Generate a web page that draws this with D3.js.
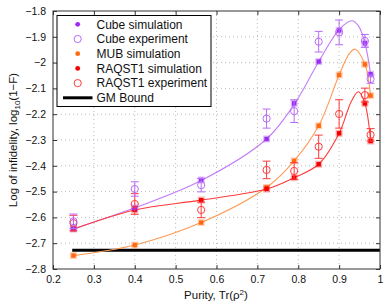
<!DOCTYPE html>
<html><head><meta charset="utf-8">
<script src="https://cdn.jsdelivr.net/npm/d3@7"></script>
<style>body{margin:0;background:#fff}svg{display:block;font-family:"Liberation Sans",Arial,sans-serif}</style>
</head><body><svg id="c" width="390" height="306"></svg>
<script>
const purity   = [0.25, 0.4, 0.5625, 0.7225, 0.79, 0.85, 0.9, 0.963, 0.977];
const cubeSim  = [-2.643, -2.563, -2.455, -2.296, -2.158, -1.996, -1.875, -1.925, -2.045];
const cubeExp  = [-2.615, -2.49, -2.475, -2.217, -2.188, -1.919, -1.883, -1.916, -2.064];
const cubeErr  = [0.028, 0.028, 0.026, 0.037, 0.044, 0.04, 0.048, 0.025, 0.016];
const mubSim   = [-2.748, -2.707, -2.62, -2.484, -2.381, -2.245, -2.048, -2.007, -2.128];
const raqSim   = [-2.645, -2.571, -2.533, -2.49, -2.446, -2.394, -2.274, -2.158, -2.304];
const raqExp   = [-2.622, -2.548, -2.571, -2.416, -2.42, -2.326, -2.199, -2.126, -2.28];
const raqErr   = [0.03, 0.04, 0.03, 0.034, 0.032, 0.045, 0.055, 0.027, 0.024];
const cubeFitX = [0.25, 0.4, 0.5625, 0.7225, 0.79, 0.85, 0.9, 0.931, 0.947, 0.963, 0.977];
const cubeFitY = [-2.645, -2.563, -2.457, -2.296, -2.162, -1.997, -1.872, -1.838, -1.857, -1.923, -2.045];
const mubFitX  = [0.25, 0.4, 0.5625, 0.7225, 0.79, 0.85, 0.9, 0.925, 0.939, 0.963, 0.977];
const mubFitY  = [-2.748, -2.707, -2.62, -2.484, -2.381, -2.245, -2.048, -1.965, -1.948, -2.007, -2.128];
const raqFitX  = [0.25, 0.4, 0.5625, 0.7225, 0.79, 0.85, 0.9, 0.93, 0.947, 0.963, 0.977];
const raqFitY  = [-2.645, -2.571, -2.533, -2.49, -2.446, -2.394, -2.274, -2.15, -2.113, -2.158, -2.304];
const gmBound  = -2.727;
const gmRange  = [0.247, 1.0];
const xTicks = [0.2, 0.3, 0.4, 0.5, 0.6, 0.7, 0.8, 0.9, 1];
const yTicks = [-1.8, -1.9, -2, -2.1, -2.2, -2.3, -2.4, -2.5, -2.6, -2.7, -2.8];
const legendLabels = ["Cube simulation", "Cube experiment", "MUB simulation", "RAQST1 simulation", "RAQST1 experiment", "GM Bound"];

const C = {purple:"#9a2cf5", purpleOpen:"#b86cf7", purpleLine:"#c47df8",
           orange:"#ff6a10", orangeLine:"#ff9a55",
           red:"#f40000", redOpen:"#ff3a3a", redLine:"#ff3a3a"};

const svg = d3.select("#c");
const L = 53, R = 380, T = 11, B = 269;
const x = d3.scaleLinear().domain([0.2, 1]).range([L, R]);
const y = d3.scaleLinear().domain([-2.8, -1.8]).range([B, T]);
const fmt = d => String(Math.round(d * 10) / 10).replace("-", "\u2212");

// grid
const g = svg.append("g");
g.selectAll(".gx").data(xTicks.slice(1, -1)).join("line")
  .attr("x1", d => x(d)).attr("x2", d => x(d)).attr("y1", T).attr("y2", B)
  .attr("stroke", "#bbb").attr("stroke-width", 1).attr("stroke-dasharray", "1,3");
g.selectAll(".gy").data(yTicks.slice(1, -1)).join("line")
  .attr("y1", d => y(d)).attr("y2", d => y(d)).attr("x1", L).attr("x2", R)
  .attr("stroke", "#bbb").attr("stroke-width", 1).attr("stroke-dasharray", "1,3");

// axes
const ax = d3.axisBottom(x).tickValues(xTicks).tickFormat(fmt).tickSizeInner(-4).tickSizeOuter(0).tickPadding(7);
const ay = d3.axisLeft(y).tickValues(yTicks).tickFormat(fmt).tickSizeInner(-4).tickSizeOuter(0).tickPadding(7);
const axT = d3.axisTop(x).tickValues(xTicks).tickFormat("").tickSizeInner(-4).tickSizeOuter(0);
const ayR = d3.axisRight(y).tickValues(yTicks).tickFormat("").tickSizeInner(-4).tickSizeOuter(0);
function style(sel){ sel.select(".domain").remove(); sel.selectAll("line").attr("stroke","#333");
  sel.selectAll("text").attr("font-size", 10.5).attr("fill","#111").attr("font-family","Liberation Sans, Arial, sans-serif"); }
svg.append("g").attr("transform", `translate(0,${B})`).call(ax).call(style);
svg.append("g").attr("transform", `translate(${L},0)`).call(ay).call(style);
svg.append("g").attr("transform", `translate(0,${T})`).call(axT).call(style);
svg.append("g").attr("transform", `translate(${R},0)`).call(ayR).call(style);

// GM bound
svg.append("line").attr("x1", x(gmRange[0])).attr("x2", x(gmRange[1]))
  .attr("y1", y(gmBound)).attr("y2", y(gmBound)).attr("stroke", "#000").attr("stroke-width", 3);

// fit curves
const line = d3.line().x(d => x(d[0])).y(d => y(d[1])).curve(d3.curveCatmullRom.alpha(0.5));
const fits = [[cubeFitX, cubeFitY, C.purpleLine], [mubFitX, mubFitY, C.orangeLine], [raqFitX, raqFitY, C.redLine]];
fits.forEach(([fx, fy, col]) => {
  svg.append("path").attr("d", line(fx.map((v, i) => [v, fy[i]])))
    .attr("fill", "none").attr("stroke", col).attr("stroke-width", 1.1);
});

// sim markers
function sims(vals, col){
  const sg = svg.append("g");
  vals.forEach((v, i) => {
    sg.append("rect").attr("x", x(purity[i]) - 3.5).attr("y", y(v) - 3.5).attr("width", 7).attr("height", 7)
      .attr("fill", col).attr("opacity", 0.3);
    sg.append("rect").attr("x", x(purity[i]) - 2.2).attr("y", y(v) - 2.2).attr("width", 4.4).attr("height", 4.4)
      .attr("fill", col);
  });
}
// experiment markers
function exps(vals, errs, col){
  const eg = svg.append("g").attr("stroke", col).attr("fill", "none").attr("stroke-width", 1);
  vals.forEach((v, i) => {
    const cx = x(purity[i]), y1 = y(v + errs[i]), y2 = y(v - errs[i]);
    eg.append("line").attr("x1", cx).attr("x2", cx).attr("y1", y1).attr("y2", y2);
    eg.append("line").attr("x1", cx - 4).attr("x2", cx + 4).attr("y1", y1).attr("y2", y1);
    eg.append("line").attr("x1", cx - 4).attr("x2", cx + 4).attr("y1", y2).attr("y2", y2);
    eg.append("circle").attr("cx", cx).attr("cy", y(v)).attr("r", 3.6);
  });
}
sims(mubSim, C.orange);
sims(raqSim, C.red);
sims(cubeSim, C.purple);
exps(raqExp, raqErr, C.redOpen);
exps(cubeExp, cubeErr, C.purpleOpen);

// frame
svg.append("rect").attr("x", L).attr("y", T).attr("width", R - L).attr("height", B - T)
  .attr("fill", "none").attr("stroke", "#333").attr("stroke-width", 1);

// legend
const lg = svg.append("g");
lg.append("rect").attr("x", 57).attr("y", 15.5).attr("width", 154).attr("height", 91)
  .attr("fill", "#fff").attr("stroke", "#000").attr("stroke-width", 1);
const ly = i => 24.3 + i * 14.7;
const lx = 77.7;
lg.append("circle").attr("cx", lx).attr("cy", ly(0)).attr("r", 2.4).attr("fill", C.purple);
lg.append("circle").attr("cx", lx).attr("cy", ly(1)).attr("r", 3.6).attr("fill", "none").attr("stroke", C.purpleOpen);
lg.append("circle").attr("cx", lx).attr("cy", ly(2)).attr("r", 2.4).attr("fill", C.orange);
lg.append("circle").attr("cx", lx).attr("cy", ly(3)).attr("r", 2.4).attr("fill", C.red);
lg.append("circle").attr("cx", lx).attr("cy", ly(4)).attr("r", 3.6).attr("fill", "none").attr("stroke", C.redOpen);
lg.append("line").attr("x1", 63).attr("x2", 92.5).attr("y1", ly(5)).attr("y2", ly(5)).attr("stroke", "#000").attr("stroke-width", 3);
lg.selectAll("text.l").data(legendLabels).join("text")
  .attr("x", 96.5).attr("y", (d, i) => ly(i)).attr("dy", "0.35em")
  .attr("font-size", 12).attr("fill", "#111").text(d => d);

// axis labels
const xl = svg.append("text").attr("x", 216).attr("y", 299).attr("text-anchor", "middle")
  .attr("font-size", 11.5).attr("fill", "#111");
xl.append("tspan").text("Purity, Tr(\u03C1");
xl.append("tspan").attr("font-size", 8).attr("dy", -4.5).text("2");
xl.append("tspan").attr("dy", 4.5).text(")");

const yl = svg.append("text").attr("transform", `translate(17,${(T + B) / 2}) rotate(-90)`)
  .attr("text-anchor", "middle").attr("font-size", 11.5).attr("fill", "#111");
yl.append("tspan").text("Log of infidelity, log");
yl.append("tspan").attr("font-size", 8).attr("dy", 3).text("10");
yl.append("tspan").attr("dy", -3).text("(1\u2212F)");
</script></body></html>
